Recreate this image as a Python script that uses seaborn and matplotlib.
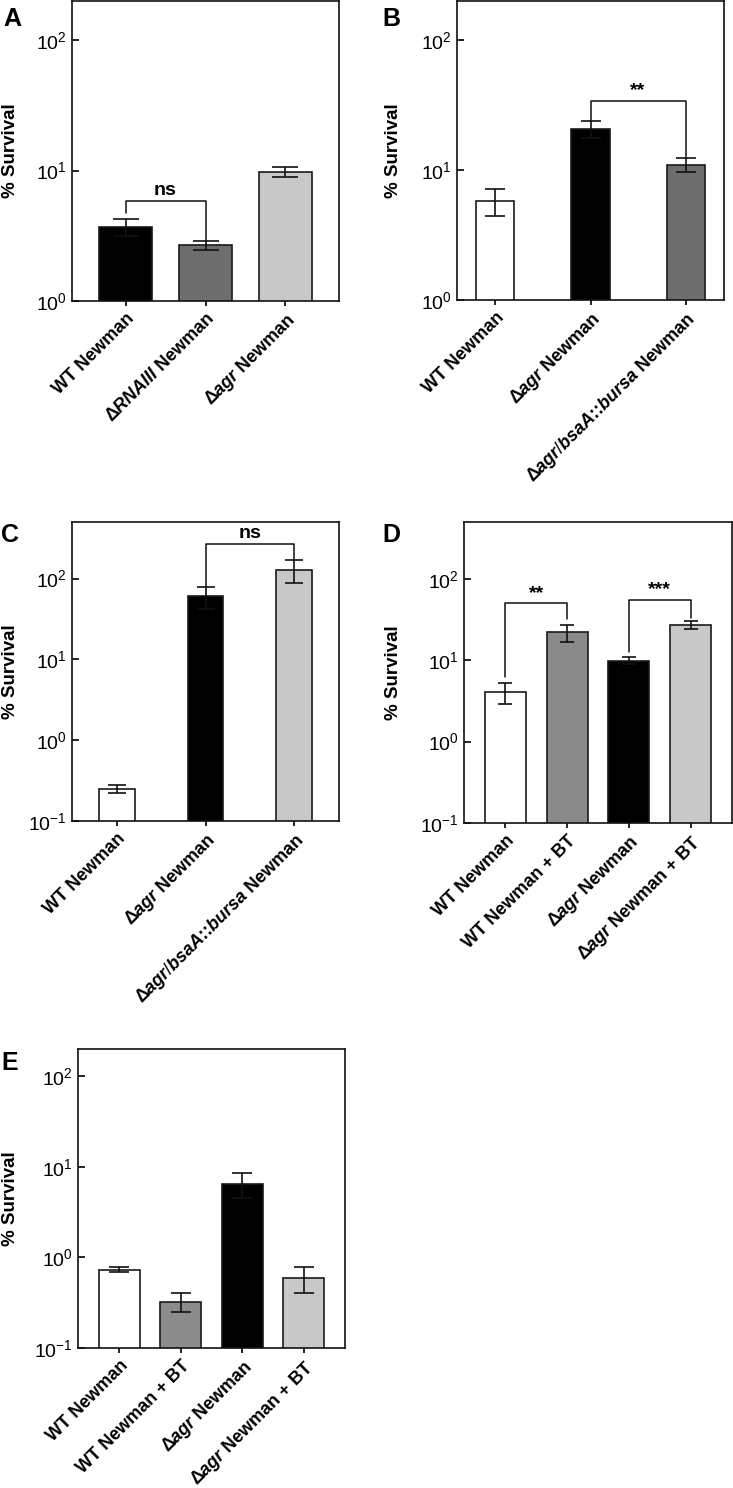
import matplotlib
matplotlib.use("Agg")
import matplotlib.pyplot as plt
from matplotlib.ticker import NullLocator
import numpy as np
import pandas as pd
import seaborn as sns

sns.set_style("ticks")
plt.rcParams["font.family"] = ["Liberation Sans", "DejaVu Sans"]
plt.rcParams["mathtext.fontset"] = "custom"
plt.rcParams["mathtext.rm"] = "Liberation Sans"
plt.rcParams["mathtext.it"] = "Liberation Sans:italic:bold"
plt.rcParams["mathtext.bf"] = "Liberation Sans:bold"
plt.rcParams["axes.unicode_minus"] = False
for key in ["text.color", "axes.labelcolor", "xtick.color", "ytick.color"]:
    plt.rcParams[key] = "black"

WT = "WT Newman"
AGR = r"Δ$\mathit{agr}$ Newman"
BSAA = r"Δ$\mathit{agr/bsaA}$::$\mathit{bursa}$ Newman"

# panel A
a_names = [WT, r"Δ$\mathit{RNAIII}$ Newman", AGR]
a_mean = [3.7, 2.68, 9.8]
a_err = [0.55, 0.2, 0.9]
a_colors = ["#000000", "#6e6e6e", "#c8c8c8"]
a_sig = [(0, 1, 5.8, 4.75, 2.9, "ns")]

# panel B
b_names = [WT, AGR, BSAA]
b_mean = [5.8, 20.7, 11.0]
b_err = [1.4, 3.0, 1.4]
b_colors = ["#ffffff", "#000000", "#6e6e6e"]
b_sig = [(1, 2, 34, 23.8, 12.6, "**")]

# panel C
c_names = [WT, AGR, BSAA]
c_mean = [0.25, 60, 128]
c_err = [0.03, 18, 41]
c_colors = ["#ffffff", "#000000", "#c8c8c8"]
c_sig = [(1, 2, 270, 78.5, 171, "ns")]

# panel D
d_names = [WT, "WT Newman + BT", AGR, r"Δ$\mathit{agr}$ Newman + BT"]
d_mean = [4.1, 22.0, 9.9, 27.3]
d_err = [1.2, 5.3, 1.0, 3.0]
d_colors = ["#ffffff", "#8a8a8a", "#000000", "#c8c8c8"]
d_sig = [(0, 1, 50, 6.3, 32, "**"), (2, 3, 55.5, 12.6, 33, "***")]

# panel E
e_names = d_names
e_mean = [0.735, 0.325, 6.5, 0.59]
e_err = [0.04, 0.075, 2.0, 0.185]
e_colors = ["#ffffff", "#8c8c8c", "#000000", "#c8c8c8"]
e_sig = []

W, H = 733, 1488
FS = 13.5
fig = plt.figure(figsize=(W / 100, H / 100), dpi=100)

panels = [
    ("A", (72, 1, 339, 301), a_names, a_mean, a_err, a_colors, a_sig, (1, 200), [1, 10, 100], 0.67, (-0.67, 2.67), 9.4, -0.2, (3, 7)),
    ("B", (457, 1, 724, 300), b_names, b_mean, b_err, b_colors, b_sig, (1, 200), [1, 10, 100], 0.4, (-0.405, 2.405), 7.2, -0.205, (382, 7)),
    ("C", (72, 522, 339, 821), c_names, c_mean, c_err, c_colors, c_sig, (0.1, 500), [0.1, 1, 10, 100], 0.4, (-0.51, 2.51), 6.8, -0.2, (1, 523)),
    ("D", (464, 522, 732, 823), d_names, d_mean, d_err, d_colors, d_sig, (0.1, 500), [0.1, 1, 10, 100], 0.665, (-0.67, 3.67), 4.7, -0.23, (382, 523)),
    ("E", (78, 1049, 345, 1348), e_names, e_mean, e_err, e_colors, e_sig, (0.1, 200), [0.1, 1, 10, 100], 0.66, (-0.67, 3.67), 7.5, -0.222, (1, 1051)),
]

for tag, box, names, mean, err, colors, sig, ylim, yticks, width, xlim, cap, lab_x, tag_xy in panels:
    x0, y0, x1, y1 = box
    ax = fig.add_axes([x0 / W, (H - y1) / H, (x1 - x0) / W, (y1 - y0) / H])
    df = pd.DataFrame({"group": names, "survival": mean})
    sns.barplot(data=df, x="group", y="survival", hue="group", palette=colors,
                width=width, edgecolor="#1a1a1a", linewidth=1.2, errorbar=None,
                legend=False, log_scale=True, ax=ax)
    pos = np.arange(len(names))
    ax.errorbar(pos, mean, yerr=err, fmt="none", ecolor="#111111",
                elinewidth=1.2, capsize=cap, capthick=1.2, zorder=5)

    for i, j, h, lo_i, lo_j, txt in sig:
        ax.plot([i, i, j, j], [lo_i, h, h, lo_j], color="#111111", lw=1.1)
        ax.text((i + j) / 2, h * 1.04, txt, ha="center", va="bottom",
                fontsize=FS + 0.5, fontweight="bold")

    ax.set_yscale("log")
    ax.set_ylim(*ylim)
    ax.set_xlim(*xlim)
    ax.set_yticks(yticks)
    ax.yaxis.set_minor_locator(NullLocator())
    ax.tick_params(axis="y", direction="in", length=5, width=1.2, labelsize=FS + 0.5, pad=4)
    ax.tick_params(axis="x", direction="out", length=3.6, width=1.2, pad=3)
    ax.set_xticks(pos)
    ax.set_xticklabels(names, rotation=45, ha="right", rotation_mode="anchor",
                       fontweight="bold", fontsize=13)
    ax.set_xlabel("")
    ax.set_ylabel("% Survival", fontweight="bold", fontsize=FS)
    ax.yaxis.set_label_coords(lab_x, 0.5)
    for s in ax.spines.values():
        s.set_linewidth(1.2)
        s.set_color("#111111")
    fig.text(tag_xy[0] / W, 1 - tag_xy[1] / H, tag, fontsize=18,
             fontweight="bold", ha="left", va="top")

fig.savefig("out.png", dpi=100)
